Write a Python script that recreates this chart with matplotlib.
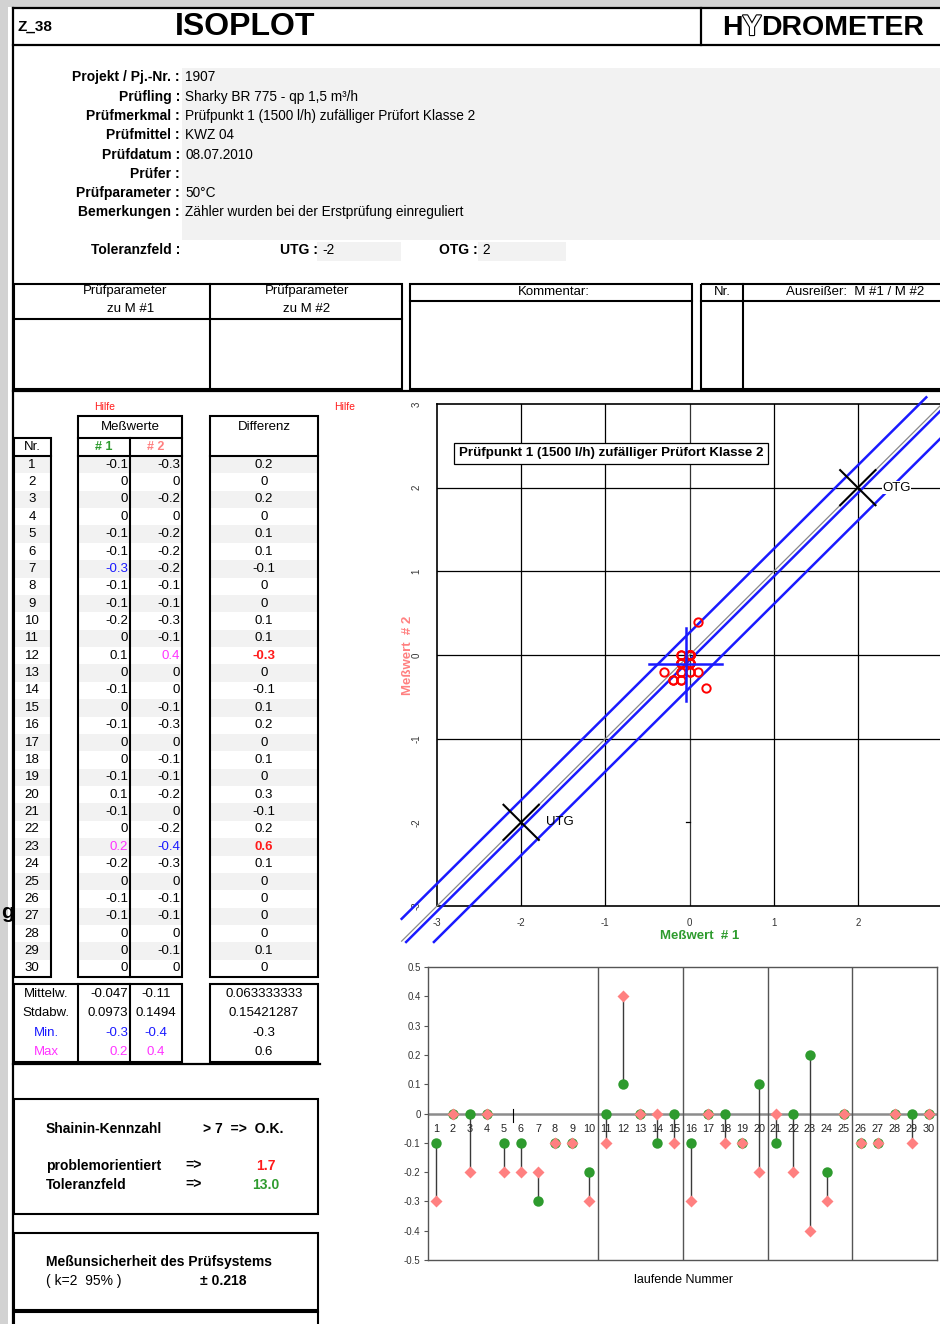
import numpy as np
import matplotlib
matplotlib.use("Agg")
import matplotlib.pyplot as plt
from matplotlib import font_manager
from matplotlib.patches import Rectangle
import matplotlib.patheffects as pe

# ---------------- data ----------------
nr = list(range(1, 31))
mess1 = [-0.1, 0, 0, 0, -0.1, -0.1, -0.3, -0.1, -0.1, -0.2,
         0, 0.1, 0, -0.1, 0, -0.1, 0, 0, -0.1, 0.1,
         -0.1, 0, 0.2, -0.2, 0, -0.1, -0.1, 0, 0, 0]
mess2 = [-0.3, 0, -0.2, 0, -0.2, -0.2, -0.2, -0.1, -0.1, -0.3,
         -0.1, 0.4, 0, 0, -0.1, -0.3, 0, -0.1, -0.1, -0.2,
         0, -0.2, -0.4, -0.3, 0, -0.1, -0.1, 0, -0.1, 0]

stat_labels = ["Mittelw.", "Stdabw.", "Min.", "Max"]
stat_m1 = ["-0.047", "0.0973", "-0.3", "0.2"]
stat_m2 = ["-0.11", "0.1494", "-0.4", "0.4"]
stat_diff = ["0.063333333", "0.15421287", "-0.3", "0.6"]

info_labels = ["Projekt / Pj.-Nr. :", "Prüfling :", "Prüfmerkmal :", "Prüfmittel :",
               "Prüfdatum :", "Prüfer :", "Prüfparameter :", "Bemerkungen :"]
info_values = ["1907", "Sharky BR 775 - qp 1,5 m³/h",
               "Prüfpunkt 1 (1500 l/h) zufälliger Prüfort Klasse 2", "KWZ 04",
               "08.07.2010", "", "50°C", "Zähler wurden bei der Erstprüfung einreguliert"]

utg, otg = -2, 2
messunsicherheit = 0.218
band_halfwidth = 0.33
shainin_problem = "1.7"
shainin_toleranz = "13.0"
grid_x = [-2, -1, 0, 1, 2]
grid_y = [-1, 0, 1, 2]
ticks_x = [-3, -2, -1, 0, 1, 2]
ticks_y = [-3, -2, -1, 0, 1, 2, 3]
group_breaks = [10.5, 15.5, 20.5, 25.5]
stem_ticks = [0.5, 0.4, 0.3, 0.2, 0.1, 0, -0.1, -0.2, -0.3, -0.4, -0.5]

m1 = np.array(mess1)
m2 = np.array(mess2)
diff = np.round(m1 - m2, 2)


# ---------------- fonts ----------------
def pick(cands):
    for c in cands:
        try:
            font_manager.findfont(font_manager.FontProperties(family=c),
                                  fallback_to_default=False)
            return c
        except Exception:
            pass
    return "DejaVu Sans"


SANS = pick(["Liberation Sans", "Arial", "DejaVu Sans"])
NARROW = pick(["Liberation Sans Narrow", "Arial Narrow", SANS])
plt.rcParams["font.family"] = [SANS, "DejaVu Sans"]
plt.rcParams["axes.unicode_minus"] = False

W, H = 940, 1324
fig = plt.figure(figsize=(W / 100, H / 100), dpi=100)
fig.patch.set_facecolor("white")
page = fig.add_axes([0, 0, 1, 1])
page.set_xlim(0, W)
page.set_ylim(H, 0)
page.axis("off")

RED = "#ff1a1a"
PINK = "#ff8080"
GREEN = "#2e9b2e"
BLUE = "#1a1aff"
MAGENTA = "#ff33ff"


def T(x, y, s, size=9, weight="normal", color="black", ha="left", va="center",
      family=None, **kw):
    return page.text(x, y, s, fontsize=size, fontweight=weight, color=color,
                     ha=ha, va=va, family=family or SANS, **kw)


def L(x0, y0, x1, y1, lw=1.5, color="black", **kw):
    page.plot([x0, x1], [y0, y1], color=color, lw=lw, solid_capstyle="projecting", **kw)


def box(x0, y0, x1, y1, lw=1.5, fc="none", ec="black", z=2):
    page.add_patch(Rectangle((x0, y0), x1 - x0, y1 - y0, fc=fc, ec=ec, lw=lw, zorder=z))


def fill(x0, y0, x1, y1, color):
    page.add_patch(Rectangle((x0, y0), x1 - x0, y1 - y0, fc=color, ec="none", zorder=0))


# page margins
fill(0, 0, W, 7, "#d2d2d2")
fill(0, 0, 8, H, "#d2d2d2")
T(7.5, 912, "g", size=15, weight="bold", ha="center")

# outer frame + header
L(13, 8, 13, H, lw=1.6)
L(13, 8, W, 8, lw=1.6)
L(13, 45, W, 45, lw=1.6)
L(701, 8, 701, 45, lw=1.6)
T(17, 27, "Z_38", size=11, weight="bold", family=NARROW)
T(175, 27, "ISOPLOT", size=23, weight="bold", family=NARROW)

r = fig.canvas.get_renderer()
xpos = 722
for part, outlined in [("H", False), ("Y", True), ("DROMETER", False)]:
    t = T(xpos, 28, part, size=20.5, weight="bold", color="white" if outlined else "black")
    if outlined:
        t.set_path_effects([pe.withStroke(linewidth=1.6, foreground="black")])
    xpos += t.get_window_extent(renderer=r).width

# info block
fill(182, 68, W, 240, "#f2f2f2")
info_y = [77, 97, 116, 135, 155, 174, 193, 212]
for y, lab, val in zip(info_y, info_labels, info_values):
    T(180, y, lab, size=10, weight="bold", ha="right")
    T(185, y, val, size=9.8)
T(180, 250, "Toleranzfeld :", size=10, weight="bold", ha="right")
fill(317, 242, 401, 261, "#f2f2f2")
fill(478, 242, 566, 261, "#f2f2f2")
T(318, 250, "UTG :", size=10, weight="bold", ha="right")
T(322, 250, f"{utg}", size=9.8)
T(478, 250, "OTG :", size=10, weight="bold", ha="right")
T(482, 250, f"{otg}", size=9.8)

# parameter / comment boxes
box(14, 284, 402, 389)
L(210, 284, 210, 389)
L(14, 319, 402, 319)
T(125, 291, "Prüfparameter", size=9.5, ha="center", family=NARROW)
T(131, 309, "zu M #1", size=9.5, ha="center", family=NARROW)
T(307, 291, "Prüfparameter", size=9.5, ha="center", family=NARROW)
T(307, 309, "zu M #2", size=9.5, ha="center", family=NARROW)
box(410, 284, 692, 389)
L(410, 301, 692, 301)
T(554, 292, "Kommentar:", size=9.5, ha="center", family=NARROW)
box(701, 284, W + 5, 389)
L(743, 284, 743, 389)
L(701, 301, W, 301)
T(722, 292, "Nr.", size=9.5, ha="center", family=NARROW)
T(855, 292, "Ausreißer:  M #1 / M #2", size=9.5, ha="center", family=NARROW)
L(13, 391, W, 391, lw=1.6)

# measurement table
T(105, 407, "Hilfe", size=7.5, color=RED, ha="center")
T(345, 407, "Hilfe", size=7.5, color=RED, ha="center")
row_top, row_h = 456, 17.37
for i in range(len(nr)):
    if i % 2 == 0:
        y0 = row_top + i * row_h
        for xa, xb in [(15, 51), (79, 181), (211, 317)]:
            fill(xa, y0, xb, y0 + row_h, "#f2f2f2")

box(14, 438, 51, 977)
L(14, 456, 51, 456)
T(32, 447, "Nr.", size=9.5, ha="center")
box(78, 416, 182, 977)
L(78, 438, 182, 438)
L(78, 456, 182, 456)
L(130, 438, 130, 977)
T(130, 427, "Meßwerte", size=9.5, ha="center")
T(104, 447, "# 1", size=9, weight="bold", color=GREEN, ha="center")
T(156, 447, "# 2", size=9, weight="bold", color=PINK, ha="center")
box(210, 416, 318, 977)
L(210, 456, 318, 456)
T(264, 427, "Differenz", size=9.5, ha="center")


def fmt(v):
    v = round(float(v), 2)
    return "0" if v == 0 else f"{v:g}"


def hl(v, arr):
    if v == arr.min():
        return BLUE
    if v == arr.max():
        return MAGENTA
    return "black"


for i, n in enumerate(nr):
    y = row_top + (i + 0.5) * row_h
    T(32, y, str(n), size=9.5, ha="center")
    T(128, y, fmt(m1[i]), size=9.5, ha="right", color=hl(m1[i], m1))
    T(180, y, fmt(m2[i]), size=9.5, ha="right", color=hl(m2[i], m2))
    ext = diff[i] in (diff.min(), diff.max())
    T(264, y, fmt(diff[i]), size=9.5, ha="center",
      color=RED if ext else "black", weight="bold" if ext else "normal")

# statistics
box(14, 984, 182, 1062)
L(78, 984, 78, 1062)
L(130, 984, 130, 1062)
box(210, 984, 318, 1062)
stat_colors = ["black", "black", BLUE, MAGENTA]
for k, yy in enumerate([994, 1013, 1033, 1052]):
    T(46, yy, stat_labels[k], size=9.5, ha="center", color=stat_colors[k])
    T(128, yy, stat_m1[k], size=9.5, ha="right", color=stat_colors[k])
    T(156, yy, stat_m2[k], size=9.5, ha="center", color=stat_colors[k])
    T(264, yy, stat_diff[k], size=9.5, ha="center")
L(13, 1064, 320, 1064, lw=1.6)

# Shainin box (baseline-aligned so symbols sit on the same line as words)
box(14, 1099, 318, 1214)
B = dict(size=10, weight="bold", va="baseline")
T(46, 1133, "Shainin-Kennzahl", **B)
T(203, 1133, "> 7  =>  O.K.", **B)
T(46, 1170, "problemorientiert", **B)
T(185, 1170, "=>", **B)
T(266, 1170, shainin_problem, color=RED, ha="center", **B)
T(46, 1189, "Toleranzfeld", **B)
T(185, 1189, "=>", **B)
T(266, 1189, shainin_toleranz, color=GREEN, ha="center", **B)

# measurement uncertainty box
box(14, 1233, 318, 1310)
T(46, 1266, "Meßunsicherheit des Prüfsystems", size=10, weight="bold", va="baseline")
T(46, 1285, "( k=2  95% )", size=10, va="baseline")
T(200, 1285, f"± {messunsicherheit:.3f}", size=10, weight="bold", va="baseline")
L(14, 1312, 14, H + 5)
L(318, 1312, 318, H + 5)
L(14, 1312, 318, 1312)

# ---------------- isoplot ----------------
ax = fig.add_axes([437 / W, 1 - 906 / H, 505 / W, 502 / H])
ax.set_xlim(-3, 3)
ax.set_ylim(-3, 3)
for s in ax.spines.values():
    s.set_color("black")
    s.set_linewidth(1.2)
for gx in grid_x:
    ax.axvline(gx, color="#333333" if gx == 0 else "black", lw=0.9, zorder=1)
for gy in grid_y:
    ax.axhline(gy, color="black", lw=0.9, zorder=1)
ax.plot([-0.045, 0], [utg, utg], color="black", lw=0.9)
ax.set_xticks(ticks_x)
ax.set_yticks(ticks_y)
ax.tick_params(length=0, labelsize=7, labelcolor="#333333")
ax.tick_params(axis="x", pad=9)
ax.tick_params(axis="y", pad=11, labelrotation=90)
for lab in ax.get_yticklabels():
    lab.set_va("center")

mean1, mean2 = m1.mean(), m2.mean()
offset = mean2 - mean1
for off, col, lw in [(0, "#8a8a8a", 0.9), (offset + band_halfwidth, BLUE, 1.8),
                     (offset, BLUE, 1.8), (offset - band_halfwidth, BLUE, 1.8)]:
    xs = max(-3.42, -3.43 - off)
    xe = min(3.1, 3.08 - off)
    ax.plot([xs, xe], [xs + off, xe + off], color=col, lw=lw, clip_on=False, zorder=3)

for c in (utg, otg):
    d = 0.21
    ax.plot([c - d, c + d], [c + d, c - d], color="black", lw=1.5, clip_on=False, zorder=4)
    ax.plot([c - d, c + d], [c - d, c + d], color="black", lw=1.5, clip_on=False, zorder=4)
bb = dict(facecolor="white", edgecolor="none", pad=0.5)
ax.text(otg + 0.29, otg, "OTG", fontsize=9.5, va="center", ha="left", bbox=bb, zorder=5)
ax.text(utg + 0.29, utg, "UTG", fontsize=9.5, va="center", ha="left", zorder=5)

ax.plot(m1, m2, "o", mfc="none", mec="red", ms=6, mew=1.4, zorder=5)
ch = 2 * messunsicherheit
ax.plot([mean1 - ch, mean1 + ch], [mean2, mean2], color=BLUE, lw=1.8, zorder=6)
ax.plot([mean1, mean1], [mean2 - ch, mean2 + ch], color=BLUE, lw=1.8, zorder=6)

ax.text(-0.93, 2.41, "Prüfpunkt 1 (1500 l/h) zufälliger Prüfort Klasse 2", fontsize=9.6,
        fontweight="bold", ha="center", va="center", zorder=7,
        bbox=dict(facecolor="white", edgecolor="black", lw=0.9, pad=3.5))
page.text(408, 655, "Meßwert  # 2", rotation=90, fontsize=9.5, fontweight="bold",
          color=PINK, ha="center", va="center", family=SANS)
page.text(700, 936, "Meßwert  # 1", fontsize=9.5, fontweight="bold",
          color=GREEN, ha="center", va="center", family=SANS)

# ---------------- run chart ----------------
ax2 = fig.add_axes([427.5 / W, 1 - 1260 / H, 510 / W, 293 / H])
idx = np.array(nr)
ax2.set_xlim(0.5, 30.5)
ax2.set_ylim(-0.5, 0.5)
for s in ax2.spines.values():
    s.set_color("#555555")
    s.set_linewidth(1.0)
ax2.axhline(0, color="#8c8c8c", lw=1.8, zorder=1)
for gb in group_breaks:
    ax2.axvline(gb, color="#555555", lw=1.0, zorder=1)
ax2.plot([5.5, 5.5], [-0.03, 0.015], color="black", lw=0.8, zorder=1)
ax2.vlines(idx, m1, m2, color="#3a3a3a", lw=1.0, zorder=2)
ax2.plot(idx, m1, "o", color=GREEN, ms=7.5, mec="none", zorder=3)
ax2.plot(idx, m2, "D", color=PINK, ms=6, mec="none", zorder=4)
for i in idx:
    ax2.text(i, -0.035, str(i), ha="center", va="top", fontsize=7.8, color="#222222", zorder=2)
ax2.set_xticks([])
ax2.set_yticks(stem_ticks)
ax2.set_yticklabels([fmt(v) for v in stem_ticks])
ax2.tick_params(axis="y", length=3, width=0.8, color="#555555", labelsize=7,
                labelcolor="#333333", pad=2)
page.text(683, 1280, "laufende Nummer", fontsize=9, ha="center", va="center", family=SANS)

fig.savefig("out.png", dpi=100, facecolor="white")
